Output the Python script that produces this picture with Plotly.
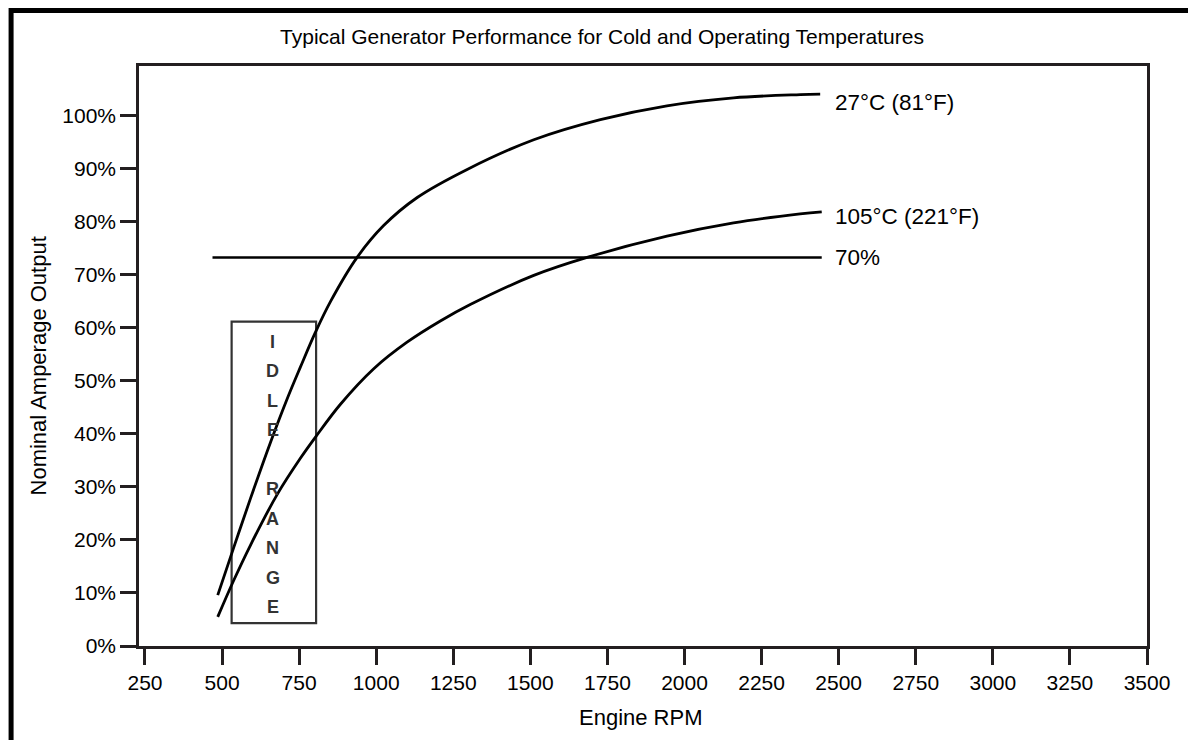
import plotly.graph_objects as go

# ---- data ----
rpm_27 = [486, 538, 592, 657, 711, 754, 803, 852, 938, 1024, 1133, 1295, 1511, 1727, 1943, 2159, 2375, 2440]
pct_27 = [9.6, 18.6, 27.8, 38.4, 46.6, 52.6, 59.2, 65.0, 73.3, 79.3, 84.6, 89.9, 95.5, 99.3, 101.9, 103.4, 104.0, 104.1]

rpm_105 = [486, 538, 592, 679, 754, 803, 884, 992, 1100, 1208, 1305, 1511, 1684, 1943, 2159, 2375, 2445]
pct_105 = [5.5, 12.4, 19.0, 28.6, 35.4, 39.4, 45.6, 52.3, 57.3, 61.3, 64.4, 69.9, 73.3, 77.3, 79.8, 81.5, 81.9]

rpm_ref = [469, 2445]
pct_ref = [73.3, 73.3]

idle_rpm = [531, 805]
idle_pct = [4.3, 61.2]
idle_letters = ["I", "D", "L", "E", "", "R", "A", "N", "G", "E"]

labels = ["27°C (81°F)", "105°C (221°F)", "70%"]
label_pct = [102.6, 81.0, 73.3]

x_ticks = list(range(250, 3501, 250))
y_ticks = list(range(0, 101, 10))
y_ticktext = [f"{v}%" for v in y_ticks]

FONT = "Liberation Sans Narrow, Arial Narrow, Liberation Sans, Arial, sans-serif"
INK = "#000000"
FRAME = "#231f20"

fig = go.Figure()
fig.add_trace(go.Scatter(x=rpm_27, y=pct_27, mode="lines",
                         line=dict(color=INK, width=2.8, shape="spline", smoothing=1.0), hoverinfo="skip"))
fig.add_trace(go.Scatter(x=rpm_105, y=pct_105, mode="lines",
                         line=dict(color=INK, width=2.8, shape="spline", smoothing=1.0), hoverinfo="skip"))
fig.add_trace(go.Scatter(x=rpm_ref, y=pct_ref, mode="lines", line=dict(color=INK, width=2.5), hoverinfo="skip"))

# idle range box
fig.add_shape(type="rect", xref="x", yref="y", x0=idle_rpm[0], x1=idle_rpm[1], y0=idle_pct[0], y1=idle_pct[1],
              line=dict(color="#333333", width=2.2), layer="below")

# vertical IDLE RANGE letters
letter_top = 57.4
letter_step = 5.57
for i, ch in enumerate(idle_letters):
    if not ch:
        continue
    fig.add_annotation(x=sum(idle_rpm) / 2 - 3, y=letter_top - i * letter_step, text=ch, showarrow=False,
                       font=dict(family="Liberation Sans, Arial, sans-serif", size=18, color="#333333", weight="bold"),
                       xanchor="center", yanchor="middle")

# curve labels
for txt, yv in zip(labels, label_pct):
    fig.add_annotation(x=2482, y=yv, text=txt, showarrow=False, xanchor="left", yanchor="middle",
                       font=dict(family=FONT, size=22.5, color=INK))

# axis titles
fig.add_annotation(xref="paper", yref="paper", x=0.498, y=-0.124, text="Engine RPM", showarrow=False,
                   xanchor="center", yanchor="middle", font=dict(family=FONT, size=22, color=INK))
fig.add_annotation(xref="paper", yref="paper", x=-0.0996, y=0.483, text="Nominal Amperage Output", showarrow=False,
                   textangle=-90, xanchor="center", yanchor="middle", font=dict(family=FONT, size=22, color=INK))

# outer heavy frame (only top and left visible)
fig.add_shape(type="rect", xref="paper", yref="paper", x0=-0.1269, x1=1.1, y0=-0.3, y1=1.0957,
              line=dict(color="#000000", width=5), layer="above")

axis_common = dict(showline=True, linecolor=FRAME, linewidth=2.5, mirror=True, ticks="outside",
                   ticklen=16, tickwidth=2.5, tickcolor=FRAME, showgrid=False, zeroline=False,
                   tickfont=dict(family=FONT, size=21, color=INK))

fig.update_layout(
    width=1188, height=732,
    margin=dict(l=130.5, r=48.7, t=58, b=94, autoexpand=False),
    paper_bgcolor="white", plot_bgcolor="white",
    showlegend=False,
    title=dict(text="Typical Generator Performance for Cold and Operating Temperatures",
               x=0.5, xref="container", xanchor="center", y=1 - 29 / 732, yref="container", yanchor="middle",
               font=dict(family=FONT, size=21, color=INK)),
    xaxis=dict(range=[230.6, 3500], tickmode="array", tickvals=x_ticks, **axis_common),
    yaxis=dict(range=[0, 109.4], tickmode="array", tickvals=y_ticks, ticktext=y_ticktext, **axis_common),
)

fig.write_html("out.html")
